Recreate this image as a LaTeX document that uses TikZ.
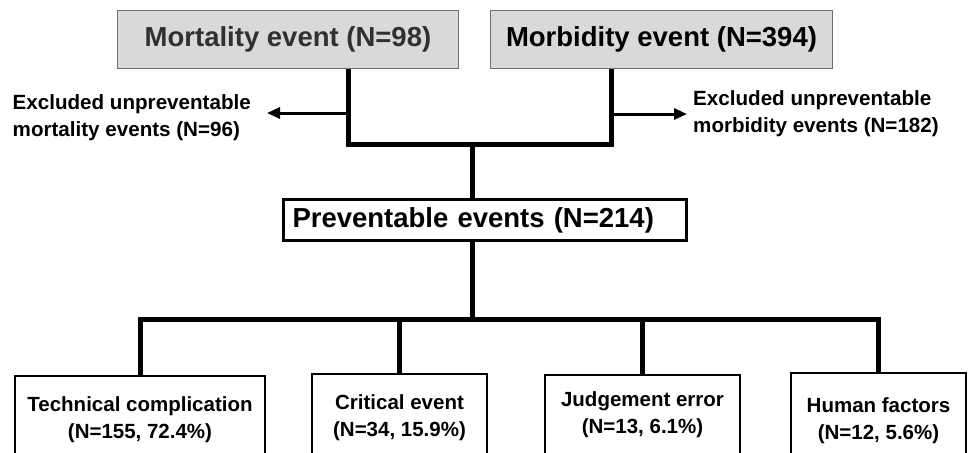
\documentclass[tikz,border=0pt]{standalone}
\usepackage{fontspec}
\setmainfont{Liberation Sans}
\usepackage{tikz}
\usetikzlibrary{arrows.meta}
\usetikzlibrary{positioning}

\definecolor{boxgray}{HTML}{D9D9D9}
\definecolor{rimgray}{HTML}{707070}
\definecolor{darkink}{HTML}{303030}

\tikzset{
	topbox/.style={draw=rimgray, line width=1pt, fill=boxgray, minimum width=341pt, minimum height=58pt, anchor=north west, inner sep=0pt, font=\fontsize{27.5}{33}\selectfont\bfseries},
	prevbox/.style={draw=black, line width=3pt, text width=385pt, inner xsep=9pt, minimum height=41pt, align=left, anchor=north west, font=\fontsize{27.5}{33}\selectfont\bfseries},
	leafbox/.style={draw=black, line width=1.6pt, anchor=north, align=center, inner sep=0pt, font=\fontsize{20.5}{27}\selectfont\bfseries},
	exnote/.style={align=left, inner sep=0pt, font=\fontsize{20.6}{27}\selectfont\bfseries},
	trunk/.style={line width=5pt},
	sidearrow/.style={line width=3pt, -{Triangle[length=13pt,width=11pt]}}
}

\begin{document}
\begin{tikzpicture}[x=1pt,y=-1pt]
	\clip (0,0) rectangle (968,452);
	\fill[white] (0,0) rectangle (968,452);
	
	\node[topbox, text=darkink] (mort) at (117,10) {Mortality event (N=98)};
	\node[topbox, minimum width=342pt] (morb) at (490,10) {Morbidity event (N=394)};
	\node[prevbox] (prev) at (282,198) {Preventable events (N=214)};
	
	\node[leafbox, minimum width=250pt, minimum height=87pt] (tech) at (140,375) {Technical complication\\(N=155, 72.4\%)};
	\node[leafbox, minimum width=175pt, minimum height=87pt] (crit) at (399.5,373) {Critical event\\(N=34, 15.9\%)};
	\node[leafbox, minimum width=195pt, minimum height=79pt] (judg) at (642.5,374) {Judgement error\\(N=13, 6.1\%)};
	\node[leafbox, minimum width=175pt, minimum height=95pt] (human) at (878.5,372) {Human factors\\(N=12, 5.6\%)};
	
	\coordinate (jl) at (348,144);
	\coordinate (jr) at (611,144);
	\coordinate (jc) at (472,144);
	\coordinate (bus) at (472,319);
	\coordinate (tipl) at (267,113);
	\coordinate (tipr) at (687,114);
	
	\node[exnote, left=16pt of tipl, yshift=-5pt] (exl) {Excluded unpreventable\\mortality events (N=96)};
	\node[exnote, right=6pt of tipr] (exr) {Excluded unpreventable\\morbidity events (N=182)};
	
	% merging the two streams
	\draw[trunk] (mort.south -| jl) -- (jl) -- (jr) -- (morb.south -| jr);
	\draw[trunk] (jc) -- (prev.north -| jc);
	\draw[sidearrow] (jl |- tipl) -- (tipl);
	\draw[sidearrow] (jr |- tipr) -- (tipr);
	
	% splitting into the four categories
	\draw[trunk] (prev.south -| bus) -- (bus);
	\draw[trunk] (tech.north) |- (bus) -| (human.north);
	\draw[trunk] (crit.north) -- (crit.north |- bus);
	\draw[trunk] (judg.north) -- (judg.north |- bus);
\end{tikzpicture}
\end{document}
